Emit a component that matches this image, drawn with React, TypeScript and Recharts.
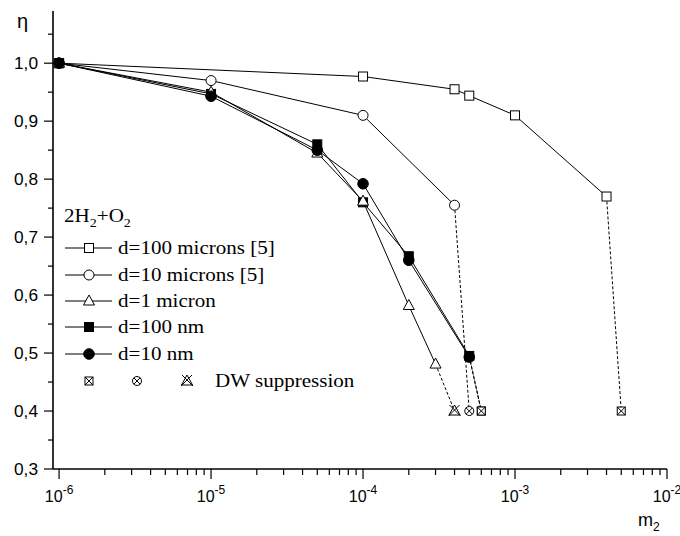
import { ComposedChart, Line, Scatter, XAxis, YAxis } from 'recharts';

// m2 (x) and eta (y)
const m100um = [1e-6, 1e-4, 4e-4, 5e-4, 1e-3, 4e-3];
const eta100um = [1.0, 0.977, 0.955, 0.944, 0.91, 0.77];
const m10um = [1e-6, 1e-5, 1e-4, 4e-4];
const eta10um = [1.0, 0.97, 0.91, 0.755];
const m1um = [1e-6, 1e-5, 5e-5, 1e-4, 2e-4, 3e-4];
const eta1um = [1.0, 0.95, 0.845, 0.762, 0.582, 0.481];
const m100nm = [1e-6, 1e-5, 5e-5, 1e-4, 2e-4, 5e-4];
const eta100nm = [1.0, 0.947, 0.86, 0.76, 0.667, 0.495];
const m10nm = [1e-6, 1e-5, 5e-5, 1e-4, 2e-4, 5e-4];
const eta10nm = [1.0, 0.943, 0.85, 0.792, 0.66, 0.493];

// DW suppression limits
const dwEta = 0.4;
const dw100um = 5e-3;
const dw10um = 5e-4;
const dw1um = 4e-4;
const dw100nm = 6e-4;
const dw10nm = 6e-4;

const xTicks = [
  1e-6, 2e-6, 3e-6, 4e-6, 5e-6, 6e-6, 7e-6, 8e-6, 9e-6,
  1e-5, 2e-5, 3e-5, 4e-5, 5e-5, 6e-5, 7e-5, 8e-5, 9e-5,
  1e-4, 2e-4, 3e-4, 4e-4, 5e-4, 6e-4, 7e-4, 8e-4, 9e-4,
  1e-3, 2e-3, 3e-3, 4e-3, 5e-3, 6e-3, 7e-3, 8e-3, 9e-3, 1e-2,
];
const yTicks = [0.3, 0.35, 0.4, 0.45, 0.5, 0.55, 0.6, 0.65, 0.7, 0.75, 0.8, 0.85, 0.9, 0.95, 1.0, 1.05];

const pts = (xs: number[], ys: number[]) => xs.map((x, i) => ({ x, y: ys[i] }));
const last = (xs: number[], ys: number[]) => ({ x: xs[xs.length - 1], y: ys[ys.length - 1] });

const s100um = pts(m100um, eta100um);
const s10um = pts(m10um, eta10um);
const s1um = pts(m1um, eta1um);
const s100nm = pts(m100nm, eta100nm);
const s10nm = pts(m10nm, eta10nm);

const dash100um = [last(m100um, eta100um), { x: dw100um, y: dwEta }];
const dash10um = [last(m10um, eta10um), { x: dw10um, y: dwEta }];
const dash1um = [last(m1um, eta1um), { x: dw1um, y: dwEta }];
const dash100nm = [last(m100nm, eta100nm), { x: dw100nm, y: dwEta }];
const dash10nm = [last(m10nm, eta10nm), { x: dw10nm, y: dwEta }];

const dwSquares = [{ x: dw100um, y: dwEta }, { x: dw100nm, y: dwEta }, { x: dw10nm, y: dwEta }];
const dwCircles = [{ x: dw10um, y: dwEta }];
const dwTriangles = [{ x: dw1um, y: dwEta }];

const SANS = 'Liberation Sans, Arial, sans-serif';
const SERIF = 'Liberation Serif, Times New Roman, serif';

const Marker = ({ type, cx, cy }: { type: string; cx: number; cy: number }) => {
  if (cx == null || cy == null) return null;
  const k = { stroke: '#000', strokeWidth: 1 };
  switch (type) {
    case 'sqOpen':
      return <rect x={cx - 4.5} y={cy - 4.5} width={9} height={9} fill="#fff" {...k} />;
    case 'sqFill':
      return <rect x={cx - 4.5} y={cy - 4.5} width={9} height={9} fill="#000" {...k} />;
    case 'ciOpen':
      return <circle cx={cx} cy={cy} r={5} fill="#fff" {...k} />;
    case 'ciFill':
      return <circle cx={cx} cy={cy} r={5.3} fill="#000" {...k} />;
    case 'triOpen':
      return <polygon points={`${cx},${cy - 6} ${cx + 5.5},${cy + 4} ${cx - 5.5},${cy + 4}`} fill="#fff" {...k} />;
    case 'sqX':
      return (
        <g>
          <rect x={cx - 4} y={cy - 4} width={8} height={8} fill="#fff" {...k} />
          <path d={`M${cx - 4},${cy - 4}L${cx + 4},${cy + 4}M${cx + 4},${cy - 4}L${cx - 4},${cy + 4}`} {...k} />
        </g>
      );
    case 'ciX':
      return (
        <g>
          <circle cx={cx} cy={cy} r={4.5} fill="#fff" {...k} />
          <path d={`M${cx - 3.2},${cy - 3.2}L${cx + 3.2},${cy + 3.2}M${cx + 3.2},${cy - 3.2}L${cx - 3.2},${cy + 3.2}`} {...k} />
        </g>
      );
    case 'triX':
      return (
        <g>
          <polygon points={`${cx},${cy - 6} ${cx + 5.5},${cy + 4} ${cx - 5.5},${cy + 4}`} fill="#fff" {...k} />
          <path d={`M${cx - 6},${cy + 5}L${cx + 5},${cy - 6}M${cx + 6},${cy + 5}L${cx - 5},${cy - 6}`} {...k} />
        </g>
      );
  }
  return null;
};

const dot = (type: string) => (p: any) => <Marker key={`${type}-${p.index}`} type={type} cx={p.cx} cy={p.cy} />;
const shape = (type: string) => (p: any) => <Marker type={type} cx={p.cx} cy={p.cy} />;

const isDecade = (v: number) => Math.abs(Math.log10(v) - Math.round(Math.log10(v))) < 1e-6;
const isTenth = (v: number) => Math.abs(v * 10 - Math.round(v * 10)) < 1e-6;

const BottomTick = ({ x, y, payload }: any) => {
  const v = payload.value;
  const major = isDecade(v);
  return (
    <g>
      <line x1={x} x2={x} y1={y} y2={y + (major ? 10 : 6)} stroke="#000" strokeWidth={1.2} />
      {major && (
        <text x={x} y={y + 33} textAnchor="middle" fontFamily={SANS} fontSize={16} fill="#000">
          10<tspan dy={-8} fontSize={12}>{Math.round(Math.log10(v))}</tspan>
        </text>
      )}
    </g>
  );
};

const TopTick = ({ x, y, payload }: any) => {
  const major = isDecade(payload.value);
  return <line x1={x} x2={x} y1={y} y2={y + (major ? 6 : 3)} stroke="#000" strokeWidth={1} />;
};

const LeftTick = ({ x, y, payload }: any) => {
  const v = payload.value;
  const major = isTenth(v);
  return (
    <g>
      <line x1={x} x2={x - (major ? 9 : 5)} y1={y} y2={y} stroke="#000" strokeWidth={1.2} />
      {major && (
        <text
          transform={`translate(${x - 15},${y + 6}) scale(1.08,1)`}
          textAnchor="end"
          fontFamily={SANS}
          fontSize={16}
          fill="#000"
        >
          {v.toFixed(1).replace('.', ',')}
        </text>
      )}
    </g>
  );
};

const RightTick = ({ x, y, payload }: any) => {
  const major = isTenth(payload.value);
  return <line x1={x} x2={x - (major ? 6 : 3)} y1={y} y2={y} stroke="#000" strokeWidth={1} />;
};

const legendRows = [
  { label: 'd=100 microns [5]', marker: 'sqOpen', y: 248 },
  { label: 'd=10 microns [5]', marker: 'ciOpen', y: 275 },
  { label: 'd=1 micron', marker: 'triOpen', y: 301 },
  { label: 'd=100 nm', marker: 'sqFill', y: 327 },
  { label: 'd=10 nm', marker: 'ciFill', y: 354 },
];

// the legend type in the figure is horizontally stretched
const wide = (x: number, y: number) => `translate(${x},${y}) scale(1.17,1)`;

const Overlay = () => (
  <svg width={680} height={536} style={{ position: 'absolute', left: 0, top: 0, pointerEvents: 'none' }}>
    <text x={17} y={28} fontFamily={SANS} fontSize={20} fill="#000">η</text>
    <text x={638} y={526} fontFamily={SANS} fontSize={18} fill="#000">
      m<tspan dy={5} fontSize={12}>2</tspan>
    </text>
    <text transform={wide(64, 222)} fontFamily={SERIF} fontSize={18} fill="#000">
      2H<tspan dy={5} fontSize={12}>2</tspan>
      <tspan dy={-5}>+O</tspan>
      <tspan dy={5} fontSize={12}>2</tspan>
    </text>
    {legendRows.map((r) => (
      <g key={r.label}>
        <line x1={65} x2={112} y1={r.y} y2={r.y} stroke="#000" strokeWidth={1} />
        <Marker type={r.marker} cx={89} cy={r.y} />
        <text transform={wide(118, r.y + 6)} fontFamily={SERIF} fontSize={18} fill="#000">{r.label}</text>
      </g>
    ))}
    <Marker type="sqX" cx={89} cy={381} />
    <Marker type="ciX" cx={137} cy={381} />
    <Marker type="triX" cx={187} cy={381} />
    <text transform={wide(215, 387)} fontFamily={SERIF} fontSize={18} fill="#000">DW suppression</text>
  </svg>
);

export default function App() {
  const common = { xAxisId: 'b', yAxisId: 'l', dataKey: 'y', type: 'linear' as const, isAnimationActive: false, activeDot: false };
  const dashed = { ...common, stroke: '#000', strokeWidth: 1, strokeDasharray: '3 2', dot: false };
  return (
    <div style={{ position: 'absolute', left: 0, top: 0, width: 680, height: 536, background: '#fff' }}>
      <ComposedChart width={680} height={536} margin={{ top: 11, right: 13, bottom: 0, left: 0 }}>
        <XAxis
          xAxisId="b"
          dataKey="x"
          type="number"
          scale="log"
          domain={[9.12e-7, 1e-2]}
          allowDataOverflow
          ticks={xTicks}
          interval={0}
          height={67}
          tickSize={0}
          tickMargin={0}
          tickLine={false}
          axisLine={{ stroke: '#000', strokeWidth: 1.6 }}
          tick={<BottomTick />}
        />
        <XAxis
          xAxisId="t"
          orientation="top"
          dataKey="x"
          type="number"
          scale="log"
          domain={[9.12e-7, 1e-2]}
          allowDataOverflow
          ticks={xTicks}
          interval={0}
          height={0}
          tickSize={0}
          tickMargin={0}
          tickLine={false}
          axisLine={{ stroke: '#000', strokeWidth: 1.6 }}
          tick={<TopTick />}
        />
        <YAxis
          yAxisId="l"
          dataKey="y"
          type="number"
          domain={[0.3, 1.09]}
          allowDataOverflow
          ticks={yTicks}
          interval={0}
          width={53}
          tickSize={0}
          tickMargin={0}
          tickLine={false}
          axisLine={{ stroke: '#000', strokeWidth: 1.6 }}
          tick={<LeftTick />}
        />
        <YAxis
          yAxisId="r"
          orientation="right"
          dataKey="y"
          type="number"
          domain={[0.3, 1.09]}
          allowDataOverflow
          ticks={yTicks}
          interval={0}
          width={0}
          tickSize={0}
          tickMargin={0}
          tickLine={false}
          axisLine={{ stroke: '#000', strokeWidth: 1.6 }}
          tick={<RightTick />}
        />
        <Line {...dashed} data={dash100um} />
        <Line {...dashed} data={dash10um} />
        <Line {...dashed} data={dash1um} />
        <Line {...dashed} data={dash100nm} />
        <Line {...dashed} data={dash10nm} />
        <Line {...common} data={s100um} stroke="#000" strokeWidth={1} dot={dot('sqOpen')} />
        <Line {...common} data={s10um} stroke="#000" strokeWidth={1} dot={dot('ciOpen')} />
        <Line {...common} data={s100nm} stroke="#000" strokeWidth={1} dot={dot('sqFill')} />
        <Line {...common} data={s1um} stroke="#000" strokeWidth={1} dot={dot('triOpen')} />
        <Line {...common} data={s10nm} stroke="#000" strokeWidth={1} dot={dot('ciFill')} />
        <Scatter xAxisId="b" yAxisId="l" data={dwSquares} dataKey="y" shape={shape('sqX')} isAnimationActive={false} />
        <Scatter xAxisId="b" yAxisId="l" data={dwCircles} dataKey="y" shape={shape('ciX')} isAnimationActive={false} />
        <Scatter xAxisId="b" yAxisId="l" data={dwTriangles} dataKey="y" shape={shape('triX')} isAnimationActive={false} />
      </ComposedChart>
      <Overlay />
    </div>
  );
}
